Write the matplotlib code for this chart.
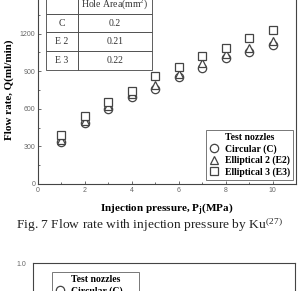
import matplotlib.pyplot as plt
from matplotlib.lines import Line2D

# injection pressure (MPa) and flow rate (ml/min)
pressure = [1, 2, 3, 4, 5, 6, 7, 8, 9, 10]
q_circular = [333, 484, 598, 697, 758, 856, 928, 1008, 1056, 1109]
q_ellip2 = [355, 505, 625, 715, 790, 878, 963, 1035, 1083, 1141]
q_ellip3 = [391, 543, 657, 740, 862, 936, 1021, 1088, 1167, 1229]

table_rows = [["C", "0.2"], ["E 2", "0.21"], ["E 3", "0.22"]]
table_header = ["", "Hole Area(mm$^2$)"]

serif = "Liberation Serif"
sans = "Liberation Sans"
plt.rcParams["mathtext.fontset"] = "custom"
plt.rcParams["mathtext.rm"] = serif
plt.rcParams["mathtext.it"] = serif + ":italic"
plt.rcParams["mathtext.bf"] = serif + ":bold"

fig = plt.figure(figsize=(2.99, 2.91), dpi=100)

############## Top chart ###################
ax = fig.add_axes([38 / 299, (291 - 184) / 291, 258 / 299, 188 / 291])
mk = dict(linestyle="none", markerfacecolor="white", markeredgecolor="#444444",
          markeredgewidth=0.9, markersize=6)
ax.plot(pressure, q_circular, "o", label="Circular (C)", **mk)
ax.plot(pressure, q_ellip2, "^", label="Elliptical 2 (E2)", **mk)
ax.plot(pressure, q_ellip3, "s", label="Elliptical 3 (E3)", **mk)

ax.set_xlim(0, 11)
ax.set_ylim(0, 1500)
ax.set_xticks([0, 2, 4, 6, 8, 10])
ax.set_xticks([1, 3, 5, 7, 9], minor=True)
ax.set_yticks([0, 300, 600, 900, 1200])
ax.set_yticks([150, 450, 750, 1050, 1350], minor=True)
ax.tick_params(which="both", direction="in", labelsize=5, colors="#555555",
               labelcolor="#666666", width=0.6, pad=2)
ax.tick_params(which="major", length=2.5)
ax.tick_params(which="minor", length=1.5)
for lbl in ax.get_xticklabels() + ax.get_yticklabels():
    lbl.set_family(sans)
for s in ax.spines.values():
    s.set_color("#444444")
    s.set_linewidth(0.8)

ax.set_xlabel("Injection pressure, P$_\\mathbf{j}$(MPa)", family=serif,
              fontweight="bold", fontsize=8, labelpad=5)
ax.set_ylabel("Flow rate, Q(ml/min)", family=serif, fontweight="bold",
              fontsize=8, labelpad=4)

leg_font = {"family": serif, "weight": "bold", "size": 7}
leg = ax.legend(loc="lower right", bbox_to_anchor=(0.99, 0.02),
                title="Test nozzles", fancybox=False, edgecolor="#555555",
                handlelength=1.0, handletextpad=0.6, borderpad=0.35,
                labelspacing=0.2, borderaxespad=0, prop=leg_font)
leg.get_title().set_fontproperties(leg_font)
leg.get_frame().set_linewidth(0.7)

tbl = ax.table(cellText=table_rows, colLabels=table_header,
               cellLoc="center", colWidths=[0.3, 0.7],
               bbox=[8 / 258, 0.606, 106 / 258, 0.4])
tbl.auto_set_font_size(False)
for (r, c), cell in tbl.get_celld().items():
    cell.set_linewidth(0.6)
    cell.set_edgecolor("#444444")
    cell.get_text().set_fontsize(7)
    cell.get_text().set_family(serif)
    cell.get_text().set_color("#333333")

fig.text(0.5, (291 - 225) / 291, "Fig. 7 Flow rate with injection pressure by Ku$^{(27)}$",
         ha="center", va="center", family=serif, fontsize=9.7, color="#222222")

############## Bottom chart (cut) ###################
ax2 = fig.add_axes([33 / 299, -0.5, 262 / 299, 0.5 + (291 - 263) / 291])
ax2.set_ylim(0, 1.0)
ax2.set_xticks([])
ax2.set_yticks([1.0])
ax2.set_yticklabels(["1.0"])
ax2.tick_params(direction="in", labelsize=5, labelcolor="#666666", length=0, pad=5)
for lbl in ax2.get_yticklabels():
    lbl.set_family(sans)
for s in ax2.spines.values():
    s.set_color("#444444")
    s.set_linewidth(0.8)
handles = [Line2D([], [], marker="o", **mk), Line2D([], [], marker="^", **mk),
           Line2D([], [], marker="s", **mk)]
leg2 = ax2.legend(handles, ["Circular (C)", "Elliptical 2 (E2)", "Elliptical 3 (E3)"],
                  loc="upper left", bbox_to_anchor=(52 / 299, (291 - 272) / 291),
                  bbox_transform=fig.transFigure, title="Test nozzles",
                  fancybox=False, edgecolor="#555555", handlelength=1.0,
                  handletextpad=0.6, borderpad=0.35, labelspacing=0.2,
                  borderaxespad=0, prop=leg_font)
leg2.get_title().set_fontproperties(leg_font)
leg2.get_frame().set_linewidth(0.7)

fig.savefig("out.png", dpi=100)
